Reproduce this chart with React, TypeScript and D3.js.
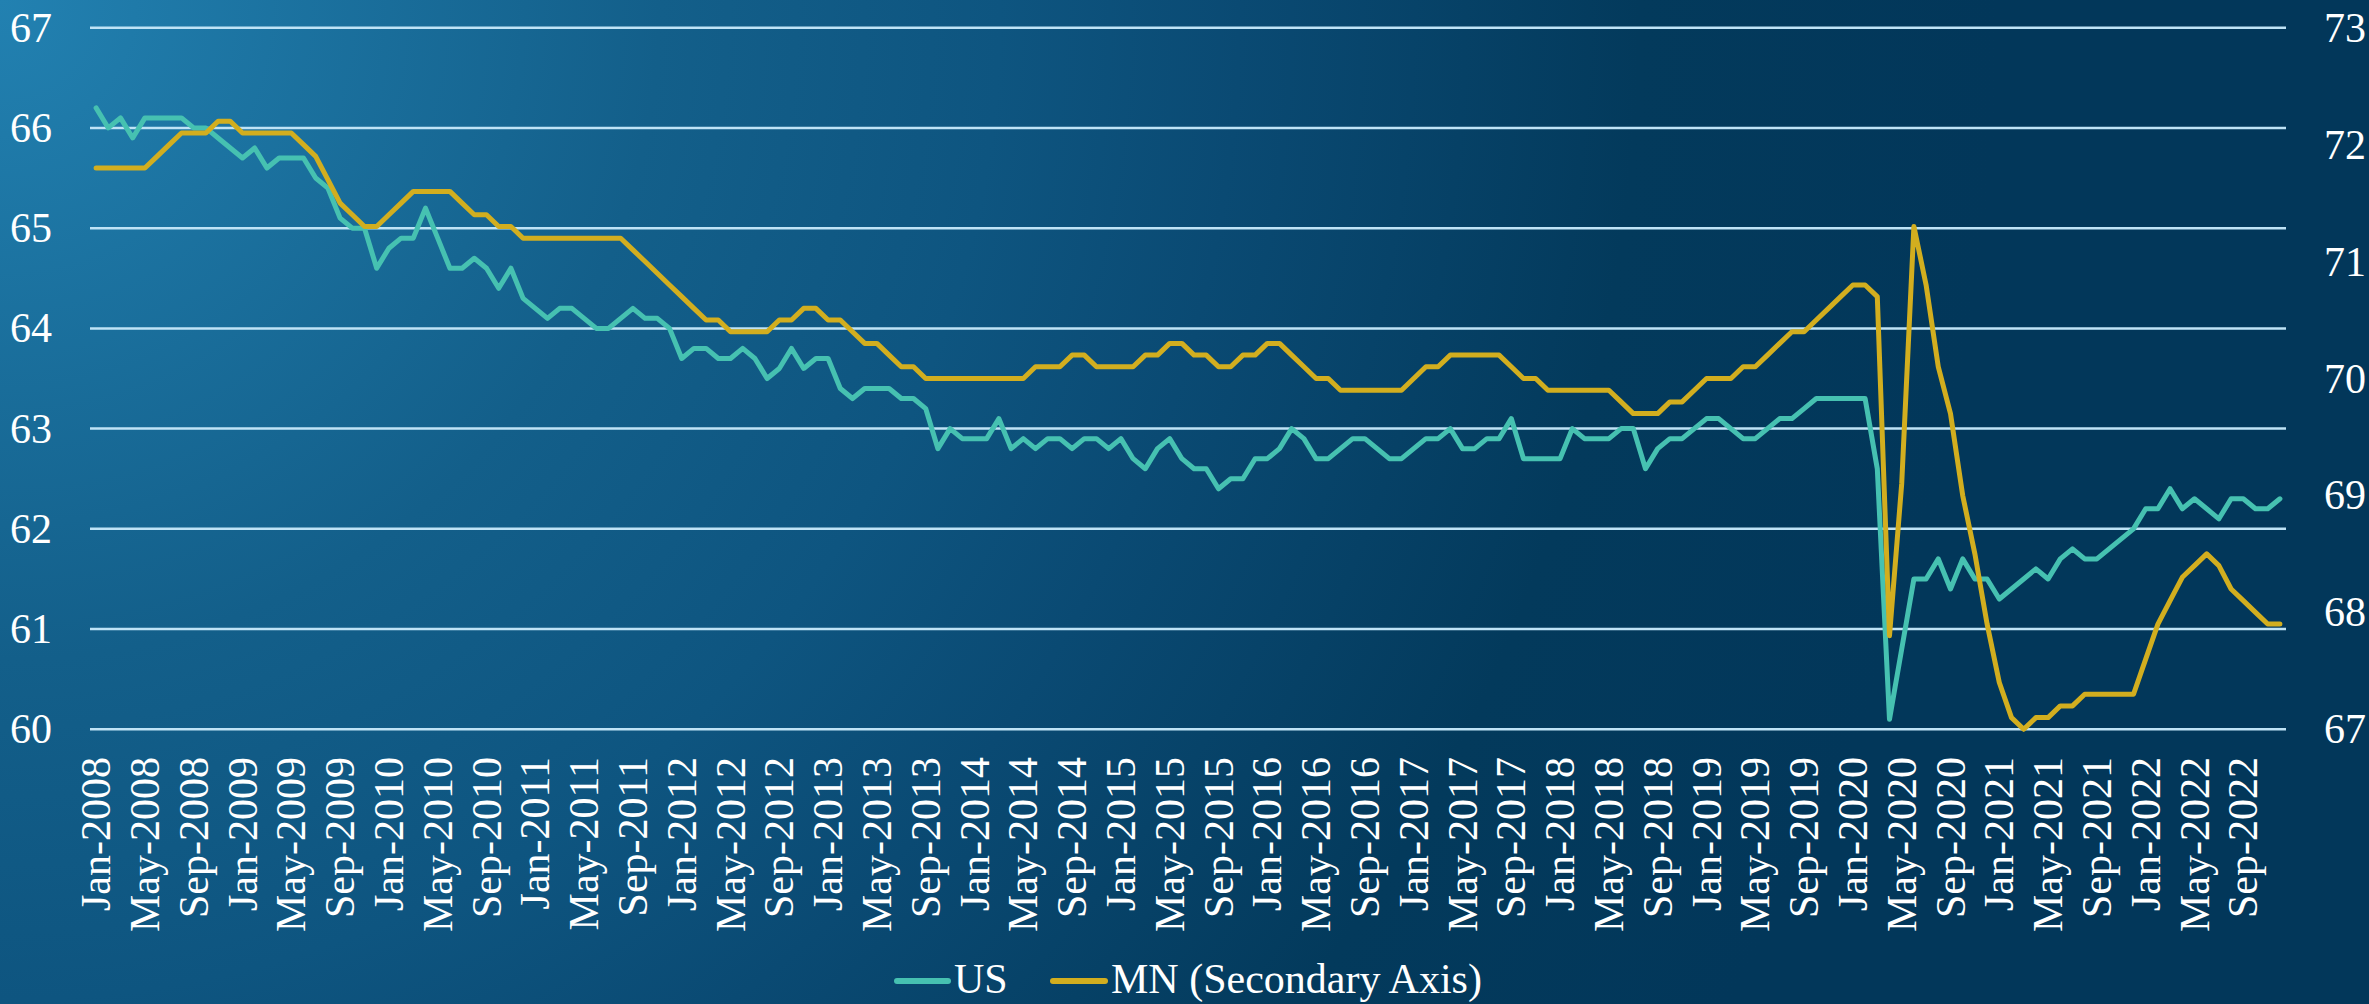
import React from 'react';
import * as d3 from 'd3';

const years = [2008, 2009, 2010, 2011, 2012, 2013, 2014, 2015, 2016, 2017, 2018, 2019, 2020, 2021, 2022];
const monthNames = ['Jan', 'Feb', 'Mar', 'Apr', 'May', 'Jun', 'Jul', 'Aug', 'Sep', 'Oct', 'Nov', 'Dec'];
const categories = years.flatMap(y => monthNames.map(m => `${m}-${y}`));

// labour force participation rate, %
const usValues = [
  66.2, 66.0, 66.1, 65.9, 66.1, 66.1, 66.1, 66.1, 66.0, 66.0, 65.9, 65.8,
  65.7, 65.8, 65.6, 65.7, 65.7, 65.7, 65.5, 65.4, 65.1, 65.0, 65.0, 64.6,
  64.8, 64.9, 64.9, 65.2, 64.9, 64.6, 64.6, 64.7, 64.6, 64.4, 64.6, 64.3,
  64.2, 64.1, 64.2, 64.2, 64.1, 64.0, 64.0, 64.1, 64.2, 64.1, 64.1, 64.0,
  63.7, 63.8, 63.8, 63.7, 63.7, 63.8, 63.7, 63.5, 63.6, 63.8, 63.6, 63.7,
  63.7, 63.4, 63.3, 63.4, 63.4, 63.4, 63.3, 63.3, 63.2, 62.8, 63.0, 62.9,
  62.9, 62.9, 63.1, 62.8, 62.9, 62.8, 62.9, 62.9, 62.8, 62.9, 62.9, 62.8,
  62.9, 62.7, 62.6, 62.8, 62.9, 62.7, 62.6, 62.6, 62.4, 62.5, 62.5, 62.7,
  62.7, 62.8, 63.0, 62.9, 62.7, 62.7, 62.8, 62.9, 62.9, 62.8, 62.7, 62.7,
  62.8, 62.9, 62.9, 63.0, 62.8, 62.8, 62.9, 62.9, 63.1, 62.7, 62.7, 62.7,
  62.7, 63.0, 62.9, 62.9, 62.9, 63.0, 63.0, 62.6, 62.8, 62.9, 62.9, 63.0,
  63.1, 63.1, 63.0, 62.9, 62.9, 63.0, 63.1, 63.1, 63.2, 63.3, 63.3, 63.3,
  63.3, 63.3, 62.6, 60.1, 60.8, 61.5, 61.5, 61.7, 61.4, 61.7, 61.5, 61.5,
  61.3, 61.4, 61.5, 61.6, 61.5, 61.7, 61.8, 61.7, 61.7, 61.8, 61.9, 62.0,
  62.2, 62.2, 62.4, 62.2, 62.3, 62.2, 62.1, 62.3, 62.3, 62.2, 62.2, 62.3,
];

const mnValues = [
  71.8, 71.8, 71.8, 71.8, 71.8, 71.9, 72.0, 72.1, 72.1, 72.1, 72.2, 72.2,
  72.1, 72.1, 72.1, 72.1, 72.1, 72.0, 71.9, 71.7, 71.5, 71.4, 71.3, 71.3,
  71.4, 71.5, 71.6, 71.6, 71.6, 71.6, 71.5, 71.4, 71.4, 71.3, 71.3, 71.2,
  71.2, 71.2, 71.2, 71.2, 71.2, 71.2, 71.2, 71.2, 71.1, 71.0, 70.9, 70.8,
  70.7, 70.6, 70.5, 70.5, 70.4, 70.4, 70.4, 70.4, 70.5, 70.5, 70.6, 70.6,
  70.5, 70.5, 70.4, 70.3, 70.3, 70.2, 70.1, 70.1, 70.0, 70.0, 70.0, 70.0,
  70.0, 70.0, 70.0, 70.0, 70.0, 70.1, 70.1, 70.1, 70.2, 70.2, 70.1, 70.1,
  70.1, 70.1, 70.2, 70.2, 70.3, 70.3, 70.2, 70.2, 70.1, 70.1, 70.2, 70.2,
  70.3, 70.3, 70.2, 70.1, 70.0, 70.0, 69.9, 69.9, 69.9, 69.9, 69.9, 69.9,
  70.0, 70.1, 70.1, 70.2, 70.2, 70.2, 70.2, 70.2, 70.1, 70.0, 70.0, 69.9,
  69.9, 69.9, 69.9, 69.9, 69.9, 69.8, 69.7, 69.7, 69.7, 69.8, 69.8, 69.9,
  70.0, 70.0, 70.0, 70.1, 70.1, 70.2, 70.3, 70.4, 70.4, 70.5, 70.6, 70.7,
  70.8, 70.8, 70.7, 67.8, 69.1, 71.3, 70.8, 70.1, 69.7, 69.0, 68.5, 67.9,
  67.4, 67.1, 67.0, 67.1, 67.1, 67.2, 67.2, 67.3, 67.3, 67.3, 67.3, 67.3,
  67.6, 67.9, 68.1, 68.3, 68.4, 68.5, 68.4, 68.2, 68.1, 68.0, 67.9, 67.9,
];

const leftTicks = [60, 61, 62, 63, 64, 65, 66, 67];
const rightTicks = [67, 68, 69, 70, 71, 72, 73];

const W = 2369;
const H = 1004;
const plot = { left: 90, right: 2286, top: 27.7, bottom: 729.3 };
const FONT = '"Liberation Serif", "Times New Roman", serif';
const US_COLOR = '#46c1b1';
const MN_COLOR = '#d2ae1f';

const App: React.FC = () => {
  const x = d3.scaleBand<string>().domain(categories).range([plot.left, plot.right]).padding(0);
  const cx = (c: string) => (x(c) ?? 0) + x.bandwidth() / 2;
  const yLeft = d3.scaleLinear().domain([60, 67]).range([plot.bottom, plot.top]);
  const yRight = d3.scaleLinear().domain([67, 73]).range([plot.bottom, plot.top]);

  const usLine = d3.line<number>()
    .x((d, i) => cx(categories[i]))
    .y(d => yLeft(d));
  const mnLine = d3.line<number>()
    .x((d, i) => cx(categories[i]))
    .y(d => yRight(d));

  const tickCats = categories.filter((c, i) => i % 4 === 0);

  return (
    <svg width={W} height={H} style={{ position: 'absolute', left: 0, top: 0 }} fontFamily={FONT}>
      <defs>
        <radialGradient id="bg" gradientUnits="userSpaceOnUse" cx="0" cy="0" r="2000">
          <stop offset="0" stopColor="#2281b1" />
          <stop offset="0.33" stopColor="#135f8a" />
          <stop offset="0.5" stopColor="#0e5580" />
          <stop offset="0.62" stopColor="#0a4a73" />
          <stop offset="0.82" stopColor="#033a5c" />
          <stop offset="1" stopColor="#02375a" />
        </radialGradient>
      </defs>
      <rect width={W} height={H} fill="url(#bg)" />

      {leftTicks.map(t => (
        <line key={t} x1={plot.left} x2={plot.right} y1={yLeft(t)} y2={yLeft(t)}
          stroke="#bfe3f6" strokeWidth={2.5} />
      ))}

      {leftTicks.map(t => (
        <text key={t} x={52} y={yLeft(t)} textAnchor="end" dominantBaseline="central"
          fill="#fff" fontSize={42}>{t}</text>
      ))}
      {rightTicks.map(t => (
        <text key={t} x={2324} y={yRight(t)} textAnchor="start" dominantBaseline="central"
          fill="#fff" fontSize={42}>{t}</text>
      ))}

      {tickCats.map(c => (
        <text key={c} transform={`translate(${cx(c)},757) rotate(-90)`} textAnchor="end"
          dominantBaseline="central" fill="#fff" fontSize={42}>{c}</text>
      ))}

      <path d={usLine(usValues) ?? ''} fill="none" stroke={US_COLOR} strokeWidth={5}
        strokeLinejoin="round" strokeLinecap="round" />
      <path d={mnLine(mnValues) ?? ''} fill="none" stroke={MN_COLOR} strokeWidth={5}
        strokeLinejoin="round" strokeLinecap="round" />

      <g fontSize={42} fill="#fff">
        <line x1={897} x2={948} y1={981} y2={981} stroke={US_COLOR} strokeWidth={6} strokeLinecap="round" />
        <text x={954} y={979} dominantBaseline="central">US</text>
        <line x1={1053} x2={1105} y1={981} y2={981} stroke={MN_COLOR} strokeWidth={6} strokeLinecap="round" />
        <text x={1111} y={979} dominantBaseline="central">MN (Secondary Axis)</text>
      </g>
    </svg>
  );
};

export default App;
